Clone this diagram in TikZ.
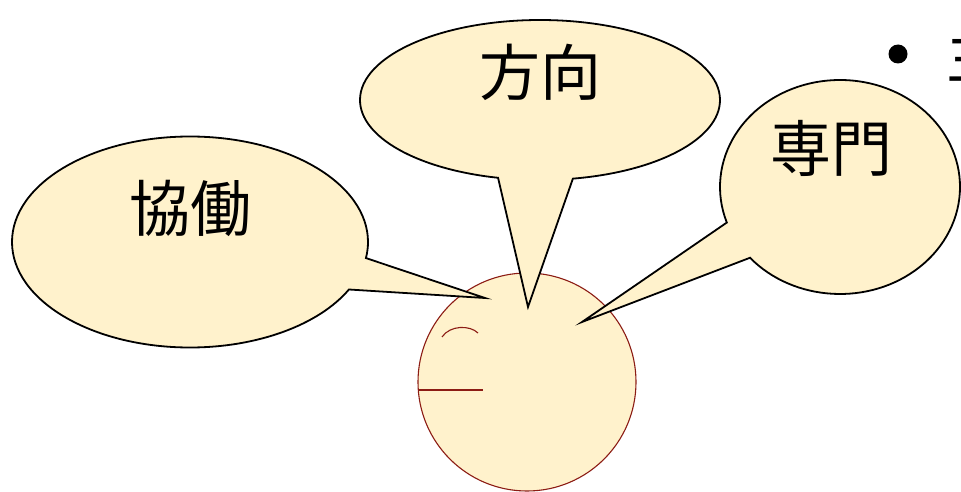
\documentclass[tikz,border=0pt]{standalone}
\usepackage{fontspec}
\newfontfamily\cjk{Noto Sans CJK JP}
\usetikzlibrary{shapes.callouts}
\definecolor{cream}{RGB}{255,242,204}
\definecolor{facered}{RGB}{140,28,20}
\begin{document}
\begin{tikzpicture}[x=1pt,y=-1pt,
  bubble/.style={ellipse callout, draw=black, line width=1.8pt, fill=cream, inner sep=0pt},
  word/.style={font=\cjk\fontsize{61}{64}\selectfont, inner sep=0pt},
  facestroke/.style={draw=facered, line width=1.1pt}]
\useasboundingbox (0,0) rectangle (961,492);

% the head that the three speech bubbles point at
\node[circle, facestroke, fill=cream, minimum size=218pt, inner sep=0pt] (face) at (527,382) {};
\coordinate (eyeL) at (442,337);
\coordinate (eyeR) at (478,333);
\draw[facestroke] (eyeL) .. controls (450,325) and (470,325) .. (eyeR);
\coordinate (mouthL) at (419,390);
\coordinate (mouthR) at (483,390);
\draw[facestroke] (mouthL) -- (mouthR);

% speech bubbles
\node[bubble, minimum width=356pt, minimum height=211pt,
      callout absolute pointer={(485,298)}, callout pointer arc=18] (coop) at (190,242) {};
\node[bubble, minimum width=360pt, minimum height=160pt,
      callout absolute pointer={(528,307)}, callout pointer arc=24] (dir) at (540,100) {};
\node[bubble, minimum width=240pt, minimum height=214pt,
      callout absolute pointer={(582,322)}, callout pointer arc=22] (spec) at (840,187) {};

\node[word] (t1) at (190,208) {協働};
\node[word] (t2) at (540,72) {方向};
\node[word] (t3) at (831,148) {専門};

% bullet of the text that runs off the right edge
\node[circle, fill=black, minimum size=19pt, inner sep=0pt] (dot) at (898,54) {};
\node[word, anchor=west] (cut) at (946,54) {主};
\end{tikzpicture}
\end{document}
